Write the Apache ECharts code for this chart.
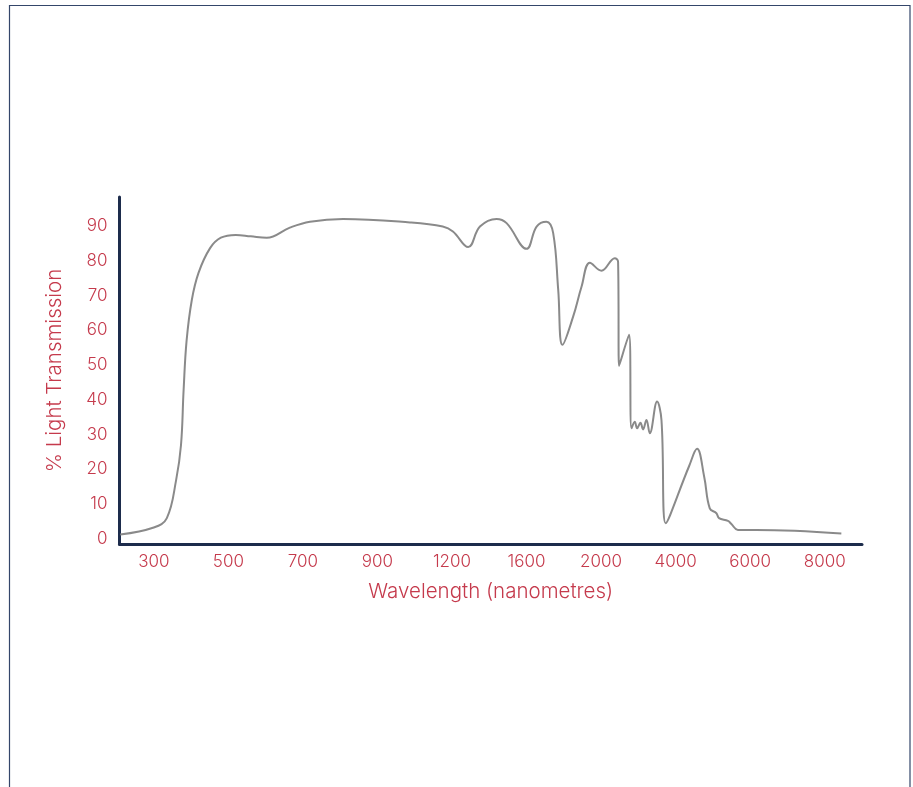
<!DOCTYPE html>
<html>
<head>
<meta charset="utf-8">
<script src="https://cdn.jsdelivr.net/npm/echarts@6/dist/echarts.min.js"></script>
<style>
  html, body { margin: 0; padding: 0; background: #fff; }
  #chart { width: 913px; height: 787px; }
</style>
</head>
<body>
<div id="chart"></div>
<script>
// Tick labels (wavelength in nm), shown at evenly spaced positions
const xTickLabels = [300, 500, 700, 900, 1200, 1600, 2000, 4000, 6000, 8000];
const yTickValues = [0, 10, 20, 30, 40, 50, 60, 70, 80, 90];

// Wavelength (nm) of traced points
const wavelength = [210, 300, 335, 360, 373, 380, 388, 402, 420, 451, 480, 520, 560, 603, 665, 719, 808, 1031,
  1163, 1205, 1287, 1350, 1439, 1493, 1600, 1654, 1707, 1743, 1770, 1793, 1850, 1895, 1940, 2010,
  2368, 2456, 2482, 2750, 2816, 2904, 2966, 3056, 3126, 3218, 3306, 3502, 3620, 3734, 4360, 4574, 4766, 4916,
  5094, 5164, 5404, 5496, 5672, 6166, 8446];
// % light transmission at those wavelengths
const transmission = [1.3, 3.3, 6.0, 17, 27, 42.8, 57, 68.7, 76.5, 83.6, 86.6, 87.4, 87.0, 86.6, 89.5, 91.2, 92, 91,
  89.8, 88.4, 83.9, 89.8, 92.0, 90.8, 83.4, 89.8, 91.2, 87.9, 71.6, 55.8, 63.9, 72.5, 79.4, 77.1,
  80.7, 79.7, 49.7, 58.7, 31.8, 33.7, 31.8, 33.4, 31.5, 34.2, 30.4, 39.5, 34.2, 4.5, 20.9, 25.9, 17.9, 8.8,
  7.4, 6.0, 5.2, 4.3, 2.6, 2.6, 1.6];

// Map a wavelength onto the evenly spaced (piecewise linear) axis
function toAxis(wl) {
  const t = xTickLabels;
  if (wl <= t[0]) return (wl - t[0]) / (t[1] - t[0]);
  for (let i = 0; i < t.length - 1; i++) {
    if (wl <= t[i + 1]) return i + (wl - t[i]) / (t[i + 1] - t[i]);
  }
  const n = t.length - 1;
  return n + (wl - t[n]) / (t[n] - t[n - 1]);
}

const seriesData = wavelength.map((w, i) => [toAxis(w), transmission[i]]);

const RED = '#c53a4c';
const NAVY = '#1d2c4c';
const FONT = 'Inter';

const chart = echarts.init(document.getElementById('chart'), null, { renderer: 'canvas' });
chart.setOption({
  animation: false,
  backgroundColor: '#ffffff',
  graphic: [{
    type: 'rect',
    shape: { x: 9.5, y: 5.5, width: 900.5, height: 800 },
    style: { fill: 'none', stroke: '#34466a', lineWidth: 1.2 },
    silent: true
  }],
  grid: { left: 119.5, right: 51, top: 197, bottom: 243 },
  xAxis: {
    type: 'value',
    min: -0.46,
    max: 9.5,
    name: 'Wavelength (nanometres)',
    nameLocation: 'middle',
    nameGap: 37,
    nameTextStyle: { color: RED, fontSize: 20.5, fontFamily: FONT, fontWeight: 300 },
    axisLine: { show: true, onZero: false, lineStyle: { color: NAVY, width: 3 } },
    axisTick: { show: false },
    splitLine: { show: false },
    axisLabel: {
      customValues: xTickLabels.map((_, i) => i),
      formatter: v => String(xTickLabels[Math.round(v)]),
      color: RED, fontSize: 17, fontFamily: FONT, fontWeight: 300, margin: 9
    }
  },
  yAxis: {
    type: 'value',
    min: -1.45,
    max: 98.3,
    name: '% Light Transmission',
    nameLocation: 'middle',
    nameGap: 54,
    nameRotate: 90,
    nameTextStyle: { color: RED, fontSize: 20.5, fontFamily: FONT, fontWeight: 300 },
    axisLine: { show: true, onZero: false, lineStyle: { color: NAVY, width: 3 } },
    axisTick: { show: false },
    splitLine: { show: false },
    axisLabel: {
      customValues: yTickValues,
      formatter: v => String(v),
      color: RED, fontSize: 17, fontFamily: FONT, fontWeight: 300, margin: 12
    }
  },
  series: [{
    type: 'line',
    data: seriesData,
    showSymbol: false,
    smooth: 0.4,
    lineStyle: { color: '#8a8a8a', width: 2 },
    clip: false
  }]
});
</script>
</body>
</html>
